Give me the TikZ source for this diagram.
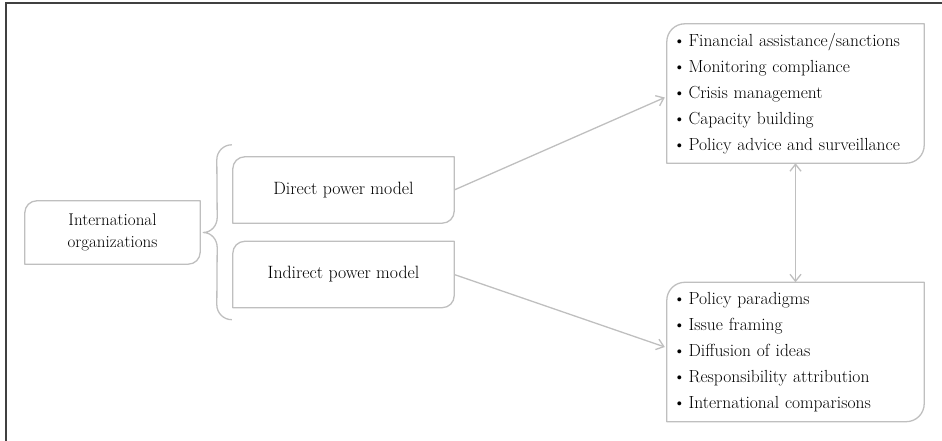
\documentclass[tikz,border=0pt]{standalone}
\usepackage{fontspec}
\usepackage{tikz}
\usetikzlibrary{arrows.meta}
\definecolor{hexcolor0xbfbfbf}{rgb}{0.749,0.749,0.749}
\definecolor{hexcolor0x404040}{rgb}{0.251,0.251,0.251}
\definecolor{myblack}{rgb}{0.000,0.000,0.000}
\newcommand{\itm}{\textbullet\hspace{3pt}}
\tikzstyle{box}=[rectangle,inner sep=0pt,text=myblack]
\tikzstyle{orgbox}=[box,minimum width=175pt,minimum height=63pt,align=center,font=\fontsize{17}{22}\selectfont]
\tikzstyle{modelbox}=[box,minimum width=221pt,minimum height=66pt,font=\fontsize{17.8}{22}\selectfont]
\tikzstyle{listbox}=[box,minimum width=257pt,minimum height=139pt,text width=245pt,align=left,font=\fontsize{17.5}{26}\selectfont]
\tikzstyle{grey}=[draw=hexcolor0xbfbfbf,line width=1.3pt,line join=round]
\tikzstyle{arrow}=[grey,-{Straight Barb[length=7pt,width=11pt]}]
\tikzstyle{twoway}=[grey,{Straight Barb[length=7pt,width=11pt]}-{Straight Barb[length=7pt,width=11pt]}]
% outline with only two round corners
\newcommand{\leaf}[2]{\draw[grey] ([xshift=#2]#1.north west) -- (#1.north east) -- ([yshift=#2]#1.south east) arc[start angle=0,end angle=-90,radius=#2] -- (#1.south west) -- ([yshift=-#2]#1.north west) arc[start angle=180,end angle=90,radius=#2] -- cycle;}

\begin{document}
\begin{tikzpicture}[x=1pt,y=1pt]
	\useasboundingbox (0,0) rectangle (942,441);
	\draw[draw=hexcolor0x404040,line width=1.3pt] (6,0) -- (6,438) -- (942,438);
	%\begin{pgfonlayer}{nodelayer}
		\node [style=orgbox] (0) at (112.5, 208.5) {International\\organizations};
		\node [style=modelbox] (1) at (343.5, 251) {Direct power model};
		\node [style=modelbox] (2) at (343.5, 166.5) {Indirect power model};
		\node [style=listbox] (3) at (795.5, 347.5) {\itm Financial assistance/sanctions\\\itm Monitoring compliance\\\itm Crisis management\\\itm Capacity building\\\itm Policy advice and surveillance};
		\node [style=listbox] (4) at (795.5, 89) {\itm Policy paradigms\\\itm Issue framing\\\itm Diffusion of ideas\\\itm Responsibility attribution\\\itm International comparisons};
	%\end{pgfonlayer}
	\leaf{0}{12pt}
	\leaf{1}{12pt}
	\leaf{2}{12pt}
	\leaf{3}{18pt}
	\leaf{4}{18pt}
	% brace
	\coordinate (5) at ([shift={(-1pt,12pt)}]1.north west);
	\coordinate (6) at ([shift={(-1pt,-12pt)}]2.south west);
	\coordinate (7) at ([xshift=3pt]0.east);
	\draw[grey] (5) to[out=180,in=90] ++(-15,-15) -- ([shift={(14pt,15pt)}]7) to[out=-90,in=0] (7)
		to[out=0,in=90] ([shift={(14pt,-15pt)}]7) -- ([shift={(-15pt,15pt)}]6) to[out=-90,in=180] (6);
	% arrows
	\draw[style=arrow] (1.east) -- ([shift={(-2pt,-4pt)}]3.west);
	\draw[style=arrow] (2.east) -- ([shift={(-2pt,5pt)}]4.west);
	\draw[style=twoway] (3.south) -- (4.north);
\end{tikzpicture}
\end{document}
